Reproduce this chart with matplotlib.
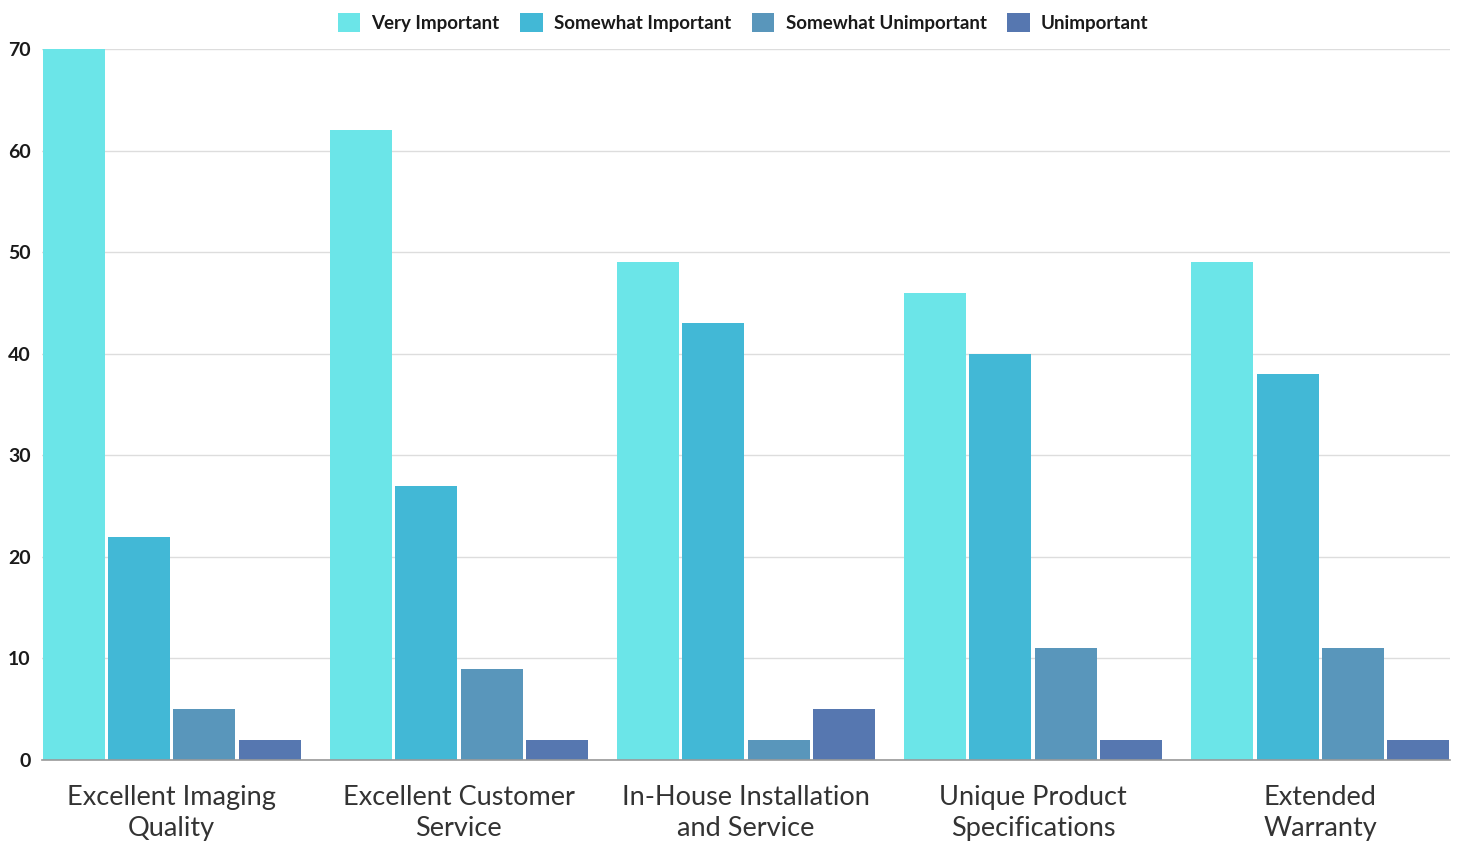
import numpy as np
import matplotlib.pyplot as plt

plt.rcParams['font.family'] = ['Lato', 'DejaVu Sans']

categories = ["Excellent Imaging\nQuality", "Excellent Customer\nService",
              "In-House Installation\nand Service", "Unique Product\nSpecifications",
              "Extended\nWarranty"]
series = ["Very Important", "Somewhat Important", "Somewhat Unimportant", "Unimportant"]
very_important = [70, 62, 49, 46, 49]
somewhat_important = [22, 27, 43, 40, 38]
somewhat_unimportant = [5, 9, 2, 11, 11]
unimportant = [2, 2, 5, 2, 2]
colors = ["#6be5e8", "#42b8d6", "#5996bb", "#5677b0"]

values = [very_important, somewhat_important, somewhat_unimportant, unimportant]

fig = plt.figure(figsize=(14.57, 8.44), dpi=100)
ax = fig.add_axes([0.0288, 0.0995, 0.9664, 0.8425])

x = np.arange(len(categories))
step = 0.2275
width = 0.216
for j, (name, vals) in enumerate(zip(series, values)):
    ax.bar(x + (j - 1.5) * step, vals, width, color=colors[j], label=name, zorder=2)

ax.set_xlim(-0.452, 4.452)
ax.set_ylim(0, 70)
ax.set_yticks(range(0, 71, 10))
ax.yaxis.grid(True, color="#dddddd", linewidth=1, zorder=0)
ax.set_axisbelow(True)
for side in ["top", "right", "left"]:
    ax.spines[side].set_visible(False)
ax.spines["bottom"].set_color("#999999")
ax.spines["bottom"].set_linewidth(1.2)
ax.spines["bottom"].set_zorder(3)

ax.set_xticks(x)
ax.set_xticklabels(categories, fontsize=19.5, color="#333333", linespacing=1.3)
ax.tick_params(axis="x", length=0, pad=18)
ax.tick_params(axis="y", length=0, pad=8, labelsize=14, labelcolor="#1a1a1a")
for lbl in ax.get_yticklabels():
    lbl.set_fontweight("bold")

leg = fig.legend(loc="upper center", bbox_to_anchor=(0.51, 1.005), ncol=4, frameon=False,
                 fontsize=13.5, handlelength=1.2, handleheight=1.2, handletextpad=0.6,
                 columnspacing=1.1)
for t in leg.get_texts():
    t.set_fontweight("bold")
    t.set_color("#1a1a1a")

fig.savefig("out.png", dpi=100)
